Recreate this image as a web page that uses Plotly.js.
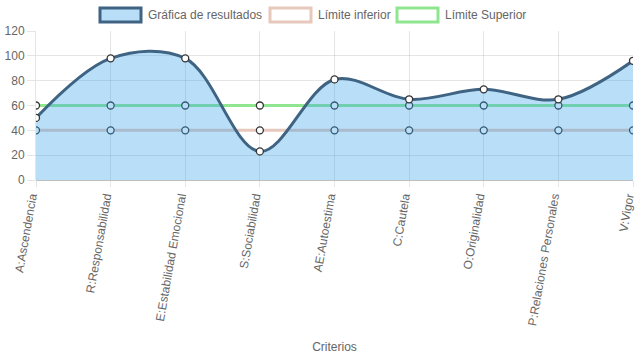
<!DOCTYPE html>
<html><head><meta charset="utf-8">
<script src="https://cdn.plot.ly/plotly-3.0.1.min.js"></script>
<style>html,body{margin:0;padding:0;background:#fff}#chart{width:637px;height:359px}</style>
</head><body><div id="chart"></div>
<script>
const categories = ["A:Ascendencia","R:Responsabilidad","E:Estabilidad Emocional","S:Sociabilidad","AE:Autoestima","C:Cautela","O:Originalidad","P:Relaciones Personales","V:Vigor"];
const resultados = [50, 98, 98, 23, 81, 65, 73, 65, 96];
const limiteInferior = [40, 40, 40, 40, 40, 40, 40, 40, 40];
const limiteSuperior = [60, 60, 60, 60, 60, 60, 60, 60, 60];
const yTicks = [0, 20, 40, 60, 80, 100, 120];
const legendNames = ["Gráfica de resultados", "Límite inferior", "Límite Superior"];

const W = 637, H = 359, ml = 36, mr = 4, mt = 31, mb = 179;
const pw = W - ml - mr, ph = H - mt - mb;
const px = x => (x - ml) / pw;
const py = y => (H - mb - y) / ph;

const markerStyle = {size: 7, color: '#ffffff', line: {color: '#333333', width: 1.3}};
const traces = [
  {x: categories, y: limiteSuperior, name: legendNames[2], type: 'scatter', mode: 'lines+markers',
   line: {color: 'rgba(144,230,144,1)', width: 3}, marker: markerStyle, showlegend: false},
  {x: categories, y: limiteInferior, name: legendNames[1], type: 'scatter', mode: 'lines+markers',
   line: {color: 'rgba(230,200,188,1)', width: 3}, marker: markerStyle, showlegend: false},
  {x: categories, y: resultados, name: legendNames[0], type: 'scatter', mode: 'lines+markers', yaxis: 'y2',
   fill: 'tozeroy', fillcolor: 'rgba(54,162,235,0.35)',
   line: {color: '#3f6383', width: 3, shape: 'spline', smoothing: 1}, marker: markerStyle, showlegend: false}
];

const legendBoxes = [
  {x0: 100, fill: 'rgba(54,162,235,0.35)', line: '#3f6383'},
  {x0: 270, fill: '#ffffff', line: 'rgba(230,200,188,1)'},
  {x0: 397, fill: '#ffffff', line: 'rgba(144,230,144,1)'}
];
const shapes = legendBoxes.map(b => ({type: 'rect', xref: 'paper', yref: 'paper',
  x0: px(b.x0), x1: px(b.x0 + 41), y0: py(22), y1: py(8),
  fillcolor: b.fill, line: {color: b.line, width: 3}}));
const annotations = legendBoxes.map((b, i) => ({xref: 'paper', yref: 'paper',
  x: px(b.x0 + 46), y: py(15), xanchor: 'left', yanchor: 'middle', showarrow: false,
  text: legendNames[i], font: {size: 12, color: '#666666', family: 'Liberation Sans, Arial, sans-serif'}}));

const layout = {
  width: W, height: H, margin: {l: ml, r: mr, t: mt, b: mb},
  paper_bgcolor: '#ffffff', plot_bgcolor: '#ffffff',
  showlegend: false,
  font: {family: 'Liberation Sans, Arial, sans-serif', size: 12, color: '#666666'},
  xaxis: {type: 'category', range: [0, 8], showgrid: true, gridcolor: 'rgba(0,0,0,0.1)',
    tickangle: -80, ticks: 'outside', ticklen: 6, tickcolor: 'rgba(0,0,0,0.1)',
    ticklabelshift: -5, ticklabelstandoff: -2,
    tickfont: {size: 12, color: '#666666'}, zeroline: false, showline: false,
    title: {text: 'Criterios', font: {size: 12, color: '#666666'}, standoff: 16}},
  yaxis: {range: [0, 120], tickvals: yTicks, showgrid: true, gridcolor: 'rgba(0,0,0,0.1)',
    ticks: 'outside', ticklen: 8, tickcolor: 'rgba(0,0,0,0.1)', zeroline: true, zerolinecolor: 'rgba(0,0,0,0.25)',
    zerolinewidth: 1, tickfont: {size: 12, color: '#666666'}, showline: true, linecolor: 'rgba(0,0,0,0.1)'},
  yaxis2: {range: [0, 120], overlaying: 'y', matches: 'y', showgrid: false, zeroline: false,
    showticklabels: false, ticks: '', showline: false},
  shapes: shapes, annotations: annotations
};
Plotly.newPlot('chart', traces, layout, {displayModeBar: false, staticPlot: true});
</script></body></html>
